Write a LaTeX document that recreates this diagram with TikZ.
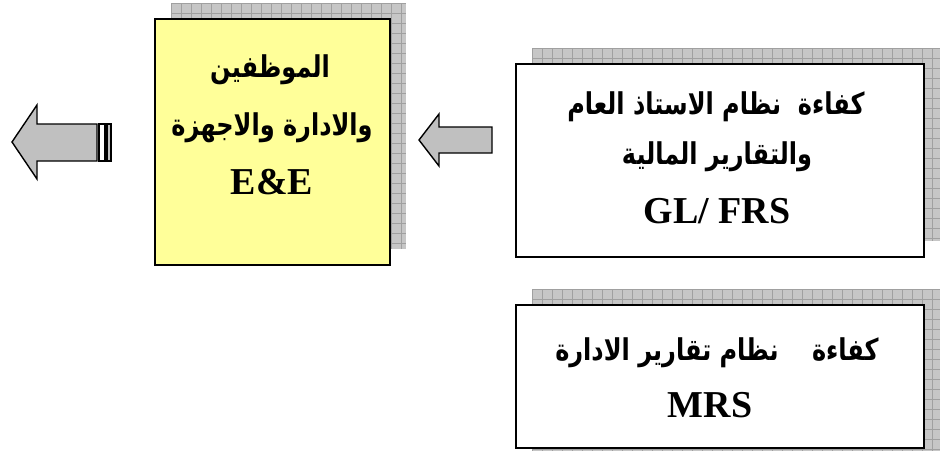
\documentclass[tikz,border=0pt]{standalone}
\usepackage{fontspec}
\setmainfont{Liberation Serif}
\newfontfamily\arabicfont[Script=Arabic]{DejaVu Sans}
\TeXXeTstate=1
\definecolor{shadowgray}{RGB}{198,198,198}
\definecolor{gridgray}{RGB}{160,160,160}
\definecolor{arrowgray}{RGB}{192,192,192}
\definecolor{boxyellow}{RGB}{255,255,153}
\tikzset{
  boxnode/.style={draw=black, line width=2.5pt, fill=white, inner sep=0pt},
  artext/.style={font=\arabicfont\bfseries\fontsize{30}{34}\selectfont, inner sep=0pt},
  latext/.style={font=\bfseries\fontsize{38}{42}\selectfont, inner sep=0pt},
  blockarrow/.style={draw=black, line width=1.4pt, fill=arrowgray, line join=miter},
  gridline/.style={draw=gridgray, line width=0.8pt}
}
\newcommand\artxt[1]{\scalebox{0.8}[1]{\beginR #1\endR}}
\newcommand\mkshadow[4]{%
  \fill[shadowgray] (#1,#2) rectangle (#3,#4);
  \begin{scope}
    \clip (#1,#2) rectangle (#3,#4);
    \foreach \gx in {0,10,...,440} {\draw[gridline] ({#1+\gx},#2) -- ({#1+\gx},#4);}
    \foreach \gy in {0,10,...,260} {\draw[gridline] (#1,{#2+\gy}) -- (#3,{#2+\gy});}
  \end{scope}}
\begin{document}
\begin{tikzpicture}[x=1pt,y=-1pt]
\useasboundingbox (0,0) rectangle (950,450);
% shadows
\mkshadow{171}{3}{406}{249}
\mkshadow{532}{48}{940}{241}
\mkshadow{532}{289}{940}{455}
% boxes
\node[boxnode, fill=boxyellow, minimum width=235pt, minimum height=246pt] (ee) at (272.5,142) {};
\node[boxnode, minimum width=408pt, minimum height=193pt] (gl) at (720,160.5) {};
\node[boxnode, minimum width=408pt, minimum height=143pt] (mrs) at (720,376.5) {};
% texts
\node[artext] (ee1) at (270,70) {\artxt{الموظفين}};
\node[artext] (ee2) at (272,128) {\artxt{والادارة والاجهزة}};
\node[latext] (ee3) at (272,182) {E\&E};
\node[artext] (gl1) at (716,107) {\artxt{كفاءة \ نظام الاستاذ العام}};
\node[artext] (gl2) at (717,157) {\artxt{والتقارير المالية}};
\node[latext] (gl3) at (717,211) {GL/ FRS};
\node[artext] (mrs1) at (717,353) {\artxt{كفاءة \ \ \ نظام تقارير الادارة}};
\node[latext] (mrs2) at (710,405) {MRS};
% middle arrow
\draw[blockarrow] (492,127) -- (439,127) -- (439,114) -- (419,140) -- (439,166) -- (439,153) -- (492,153) -- cycle;
% left arrow
\draw[blockarrow] (97,124) -- (37,124) -- (37,105) -- (12,142) -- (37,179) -- (37,161) -- (97,161) -- cycle;
\draw[blockarrow, fill=white, line width=1.2pt] (99,124) rectangle (105,161);
\draw[blockarrow, line width=1.2pt] (107,124) rectangle (111,161);
\end{tikzpicture}
\end{document}
